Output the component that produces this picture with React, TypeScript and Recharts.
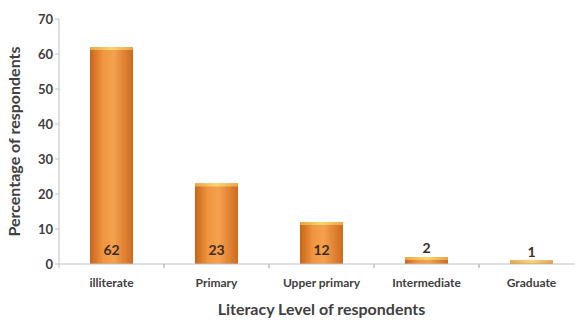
import { BarChart, Bar, XAxis, YAxis, LabelList } from "recharts"

const categories = ["illiterate", "Primary", "Upper primary", "Intermediate", "Graduate"]
const percentages = [62, 23, 12, 2, 1]
const yTicks = [0, 10, 20, 30, 40, 50, 60, 70]

const data = categories.map((name, i) => ({ name, val: percentages[i] }))

const FONT = "Lato, 'Open Sans', sans-serif"
const W = 575
const H = 321
const CW = 584 // plot runs a little past the right edge, as in the original
const LEFT = 59
const band = (CW - LEFT) / categories.length

const BarShape = (props: any) => {
  const { x, y, width, height } = props
  if (height <= 0) return null
  const cap = Math.min(3, height)
  return (
    <g>
      <rect x={x} y={y} width={width} height={height} fill="url(#barGrad)" />
      <rect x={x} y={y} width={width} height={cap} fill="url(#capGrad)" />
    </g>
  )
}

const ValueLabel = (props: any) => {
  const { x, y, width, height, value } = props
  const inside = height > 25
  return (
    <text
      x={x + width / 2}
      y={inside ? y + height - 9 : y - 4}
      textAnchor="middle"
      fontFamily={FONT}
      fontWeight={700}
      fontSize={14}
      fill="#3b2c1e"
    >
      {value}
    </text>
  )
}

const XTick = (props: any) => {
  const { x, y, payload } = props
  return (
    <g>
      <line x1={x - band / 2} y1={y - 8} x2={x - band / 2} y2={y - 4} stroke="#bfbfbf" />
      <line x1={x + band / 2} y1={y - 8} x2={x + band / 2} y2={y - 4} stroke="#bfbfbf" />
      <text x={x} y={y + 15} textAnchor="middle" fontFamily={FONT} fontWeight={700} fontSize={12} fill="#404040">
        {payload.value}
      </text>
    </g>
  )
}

export default function App() {
  return (
    <div style={{ position: "absolute", left: 0, top: 0, width: W, height: H, background: "#fff", overflow: "hidden" }}>
      <BarChart width={CW} height={H} data={data} margin={{ top: 19, right: 0, bottom: 0, left: 0 }}>
        <defs>
          <linearGradient id="barGrad" x1="0" y1="0" x2="1" y2="0">
            <stop offset="0%" stopColor="#c9641a" />
            <stop offset="30%" stopColor="#f09540" />
            <stop offset="55%" stopColor="#f5a14e" />
            <stop offset="100%" stopColor="#cf6a1e" />
          </linearGradient>
          <linearGradient id="capGrad" x1="0" y1="0" x2="1" y2="0">
            <stop offset="0%" stopColor="#eaa545" />
            <stop offset="50%" stopColor="#fad46e" />
            <stop offset="100%" stopColor="#eaa545" />
          </linearGradient>
        </defs>
        <XAxis
          dataKey="name"
          height={57}
          stroke="#bfbfbf"
          tickLine={false}
          tick={<XTick />}
          interval={0}
          label={{
            value: "Literacy Level of respondents",
            position: "insideBottom",
            offset: 6,
            fill: "#404040",
            fontFamily: FONT,
            fontWeight: 700,
            fontSize: 16,
          }}
        />
        <YAxis
          width={LEFT}
          domain={[0, 70]}
          ticks={yTicks}
          stroke="#bfbfbf"
          tickSize={4}
          tick={{ fill: "#404040", fontFamily: FONT, fontWeight: 700, fontSize: 13 }}
          label={{
            value: "Percentage of respondents",
            angle: -90,
            position: "insideLeft",
            offset: 14,
            style: { textAnchor: "middle" },
            fill: "#404040",
            fontFamily: FONT,
            fontWeight: 700,
            fontSize: 16,
          }}
        />
        <Bar dataKey="val" barSize={43} shape={<BarShape />} isAnimationActive={false}>
          <LabelList dataKey="val" content={<ValueLabel />} />
        </Bar>
      </BarChart>
    </div>
  )
}
